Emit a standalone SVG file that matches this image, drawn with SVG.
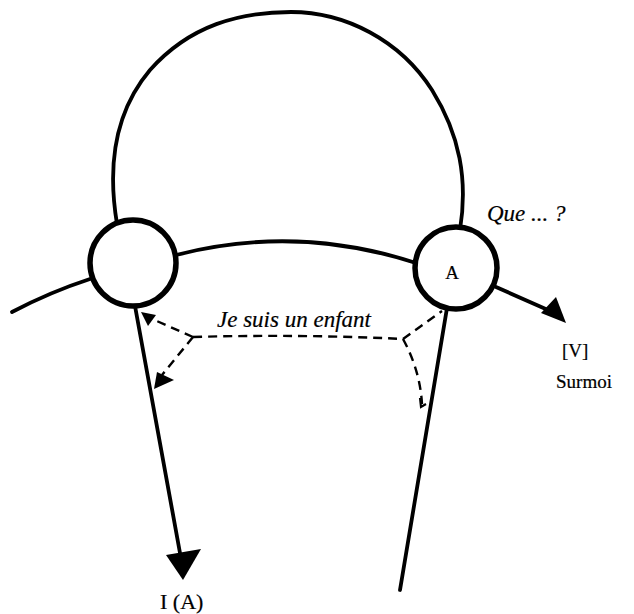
<svg xmlns="http://www.w3.org/2000/svg" width="634" height="614" viewBox="0 0 634 614">
<style>
.ln{fill:none;stroke:#000;stroke-width:3.8;stroke-linecap:round}
.ci{fill:#fff;stroke:#000;stroke-width:5.5}
.ds{fill:none;stroke:#000;stroke-width:2.4;stroke-dasharray:9,6}
.ah{fill:#000}
.t{font-family:"Liberation Serif",serif;fill:#000;stroke:#000;stroke-width:0.2}
.it{font-style:italic}
</style>
<rect width="634" height="614" fill="#fff"/>
<g id="connectors">
<path class="ln" d="M117,224 C108,170 112,115 150,70 C190,25 240,12 291,12 C345,12 400,40 432,90 C460,135 468,180 460,230"/>
<path class="ln" d="M176,255 Q296,224 416,263"/>
<path class="ln" d="M12,312 Q50,292 90,279"/>
<path class="ln" d="M496,287 L548,310"/>
<polygon class="ah" points="541,313 556,297 566,323"/>
<path class="ln" d="M135,306 L180,553"/>
<polygon class="ah" points="166,555 201,549 183,580"/>
<path class="ln" d="M447,308 L400,590"/>
<path class="ds" d="M193,337 Q300,334 403,339"/>
<path class="ds" d="M193,337 L150,318"/>
<polygon class="ah" points="141,312 156,315 148,326"/>
<path class="ds" d="M193,337 L162,375"/>
<polygon class="ah" points="157,372 174,380 154,389"/>
<path class="ds" d="M403,339 L442,311"/>
<path class="ds" d="M403,339 Q420,370 422,404"/>
<path fill="none" stroke="#000" stroke-width="2.2" d="M420,398 L421,407 L426,404"/>
</g>
<g id="node-left"><circle class="ci" cx="133" cy="263" r="43"/></g>
<g id="node-A"><circle class="ci" cx="456" cy="268" r="41"/><text class="t" x="452" y="279" text-anchor="middle" style="font-size:19px">A</text></g>
<g id="labels">
<text class="t it" x="487" y="221" style="font-size:23px">Que ... ?</text>
<text class="t it" x="217" y="327" style="font-size:23px">Je suis un enfant</text>
<text class="t" x="562" y="357" style="font-size:19px">[V]</text>
<text class="t" x="556" y="388" style="font-size:19px">Surmoi</text>
<text class="t" x="160" y="609" style="font-size:22px">I (A)</text>
</g>
</svg>
